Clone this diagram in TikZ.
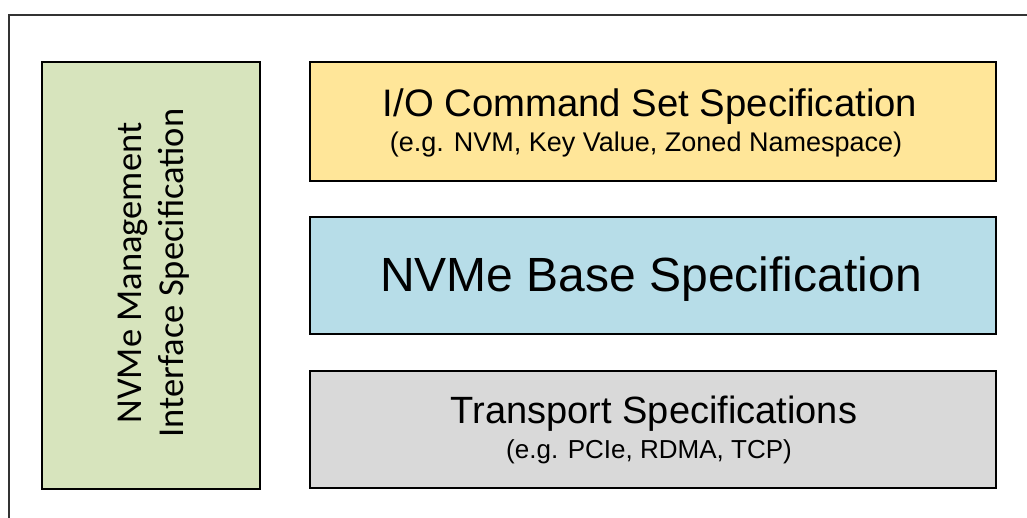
\documentclass[tikz,border=0pt]{standalone}
\usepackage{fontspec}
\setmainfont{Liberation Sans}
\newfontfamily\calibrifont{Carlito}
\definecolor{verdechiaro}{HTML}{D7E4BD}
\definecolor{giallochiaro}{HTML}{FFE699}
\definecolor{azzurrochiaro}{HTML}{B7DDE8}
\definecolor{grigiochiaro}{HTML}{D9D9D9}
\begin{document}
\begin{tikzpicture}[x=1pt, y=-1pt]
    \useasboundingbox (0,0) rectangle (1027,518);
    % Cornice
    \draw[line width=1.5pt, black!80] (9,518) -- (9,15) -- (1027,15);

    % Blocco gestione (verticale)
    \node[draw, line width=1.5pt, fill=verdechiaro, minimum width=218pt, minimum height=427pt] (box_mgmt) at (151,275.5) {};
    \node[rotate=90, align=center, font=\calibrifont\fontsize{36.5}{42}\selectfont] (txt_mgmt) at (154,273) {NVMe Management\\Interface Specification};

    % Blocchi a destra
    \node[draw, line width=1.5pt, fill=giallochiaro, minimum width=686pt, minimum height=119pt] (box_io) at (653,121.5) {};
    \node[draw, line width=1.5pt, fill=azzurrochiaro, minimum width=686pt, minimum height=117pt] (box_base) at (653,275.5) {};
    \node[draw, line width=1.5pt, fill=grigiochiaro, minimum width=686pt, minimum height=117pt] (box_tr) at (653,429.5) {};

    % Testi
    \node[anchor=base, font=\fontsize{38.3}{46}\selectfont] (io_title) at (650,117) {I/O Command Set Specification};
    \node[anchor=base, font=\fontsize{27}{32}\selectfont] (io_sub) at (646,152) {(e.g. NVM, Key Value, Zoned Namespace)};
    \node[anchor=base, font=\fontsize{48}{57}\selectfont] (base_title) at (651,291) {NVMe Base Specification};
    \node[anchor=base, font=\fontsize{38}{46}\selectfont] (tr_title) at (654,423) {Transport Specifications};
    \node[anchor=base, font=\fontsize{26}{31}\selectfont] (tr_sub) at (649,458) {(e.g. PCIe, RDMA, TCP)};
\end{tikzpicture}
\end{document}
